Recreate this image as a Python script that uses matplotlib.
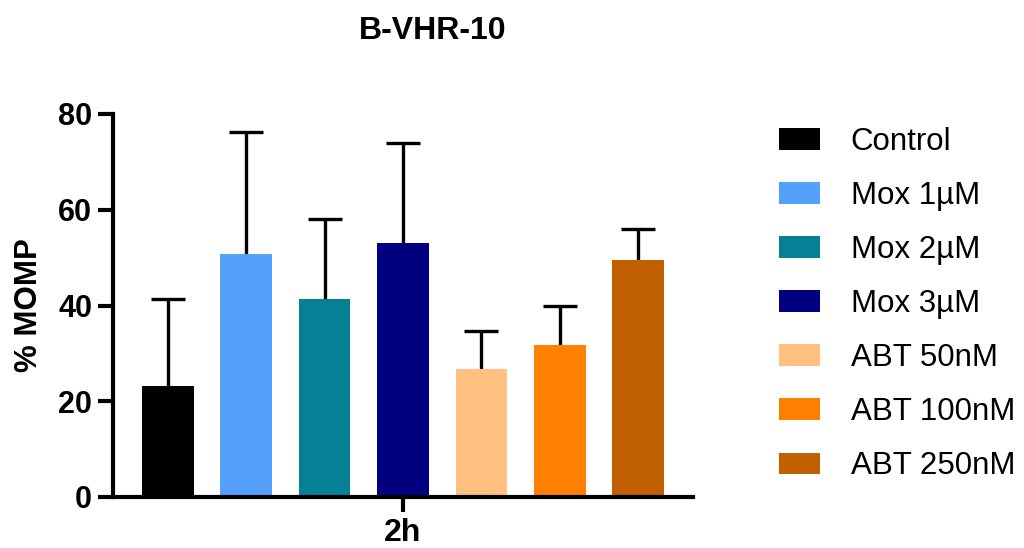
import matplotlib.pyplot as plt
from matplotlib.patches import Patch

plt.rcParams['font.family'] = ['Liberation Sans', 'DejaVu Sans']

# Data
groups = ["Control", "Mox 1µM", "Mox 2µM", "Mox 3µM", "ABT 50nM", "ABT 100nM", "ABT 250nM"]
means = [23.2, 50.7, 41.3, 53.0, 26.8, 31.7, 49.5]
errors = [18.1, 25.5, 16.7, 20.9, 7.9, 8.2, 6.4]
colors = ["#000000", "#55A0FB", "#077F95", "#000080", "#FFC080", "#FF8000", "#C06000"]
yticks = [0, 20, 40, 60, 80]

fig = plt.figure(figsize=(10.24, 5.48), dpi=100)
ax = fig.add_axes([113 / 1024, 1 - 497 / 548, 580 / 1024, 383 / 548])

x = list(range(len(groups)))
ax.bar(x, means, width=0.66, color=colors, zorder=2)
_, caps, _ = ax.errorbar(x, means, yerr=[[0] * len(errors), errors], fmt='none', ecolor='black',
                         elinewidth=2.4, capsize=12.5, capthick=2.4, zorder=1)
# only keep the upper caps (one-sided SD bars)
for c in caps:
    if list(c.get_ydata()) == means:
        c.remove()

ax.set_xlim(-0.70, 6.70)
ax.set_ylim(0, 80)
ax.set_yticks(yticks)
ax.set_xticks([3])
ax.set_xticklabels(["2h"])

for s in ['top', 'right']:
    ax.spines[s].set_visible(False)
for s in ['left', 'bottom']:
    ax.spines[s].set_linewidth(3.0)
ax.tick_params(axis='both', width=3.0, length=11, pad=4)
ax.tick_params(axis='y', labelsize=22)
ax.tick_params(axis='x', labelsize=23)
for lbl in ax.get_yticklabels() + ax.get_xticklabels():
    lbl.set_fontweight('bold')

ax.set_ylabel("% MOMP", fontsize=22.5, fontweight='bold', labelpad=10)
fig.text(433 / 1024, 1 - 31 / 548, "B-VHR-10", ha='center', va='center',
         fontsize=23, fontweight='bold')

handles = [Patch(facecolor=c, edgecolor='none') for c in colors]
fig.legend(handles, groups, loc='upper left', bbox_to_anchor=(779 / 1024, 1 - 127 / 548),
           frameon=False, fontsize=22.5, handlelength=1.3, handleheight=0.7,
           handletextpad=1.0, labelspacing=0.77, borderpad=0, borderaxespad=0)

fig.savefig("out.png", dpi=100)
